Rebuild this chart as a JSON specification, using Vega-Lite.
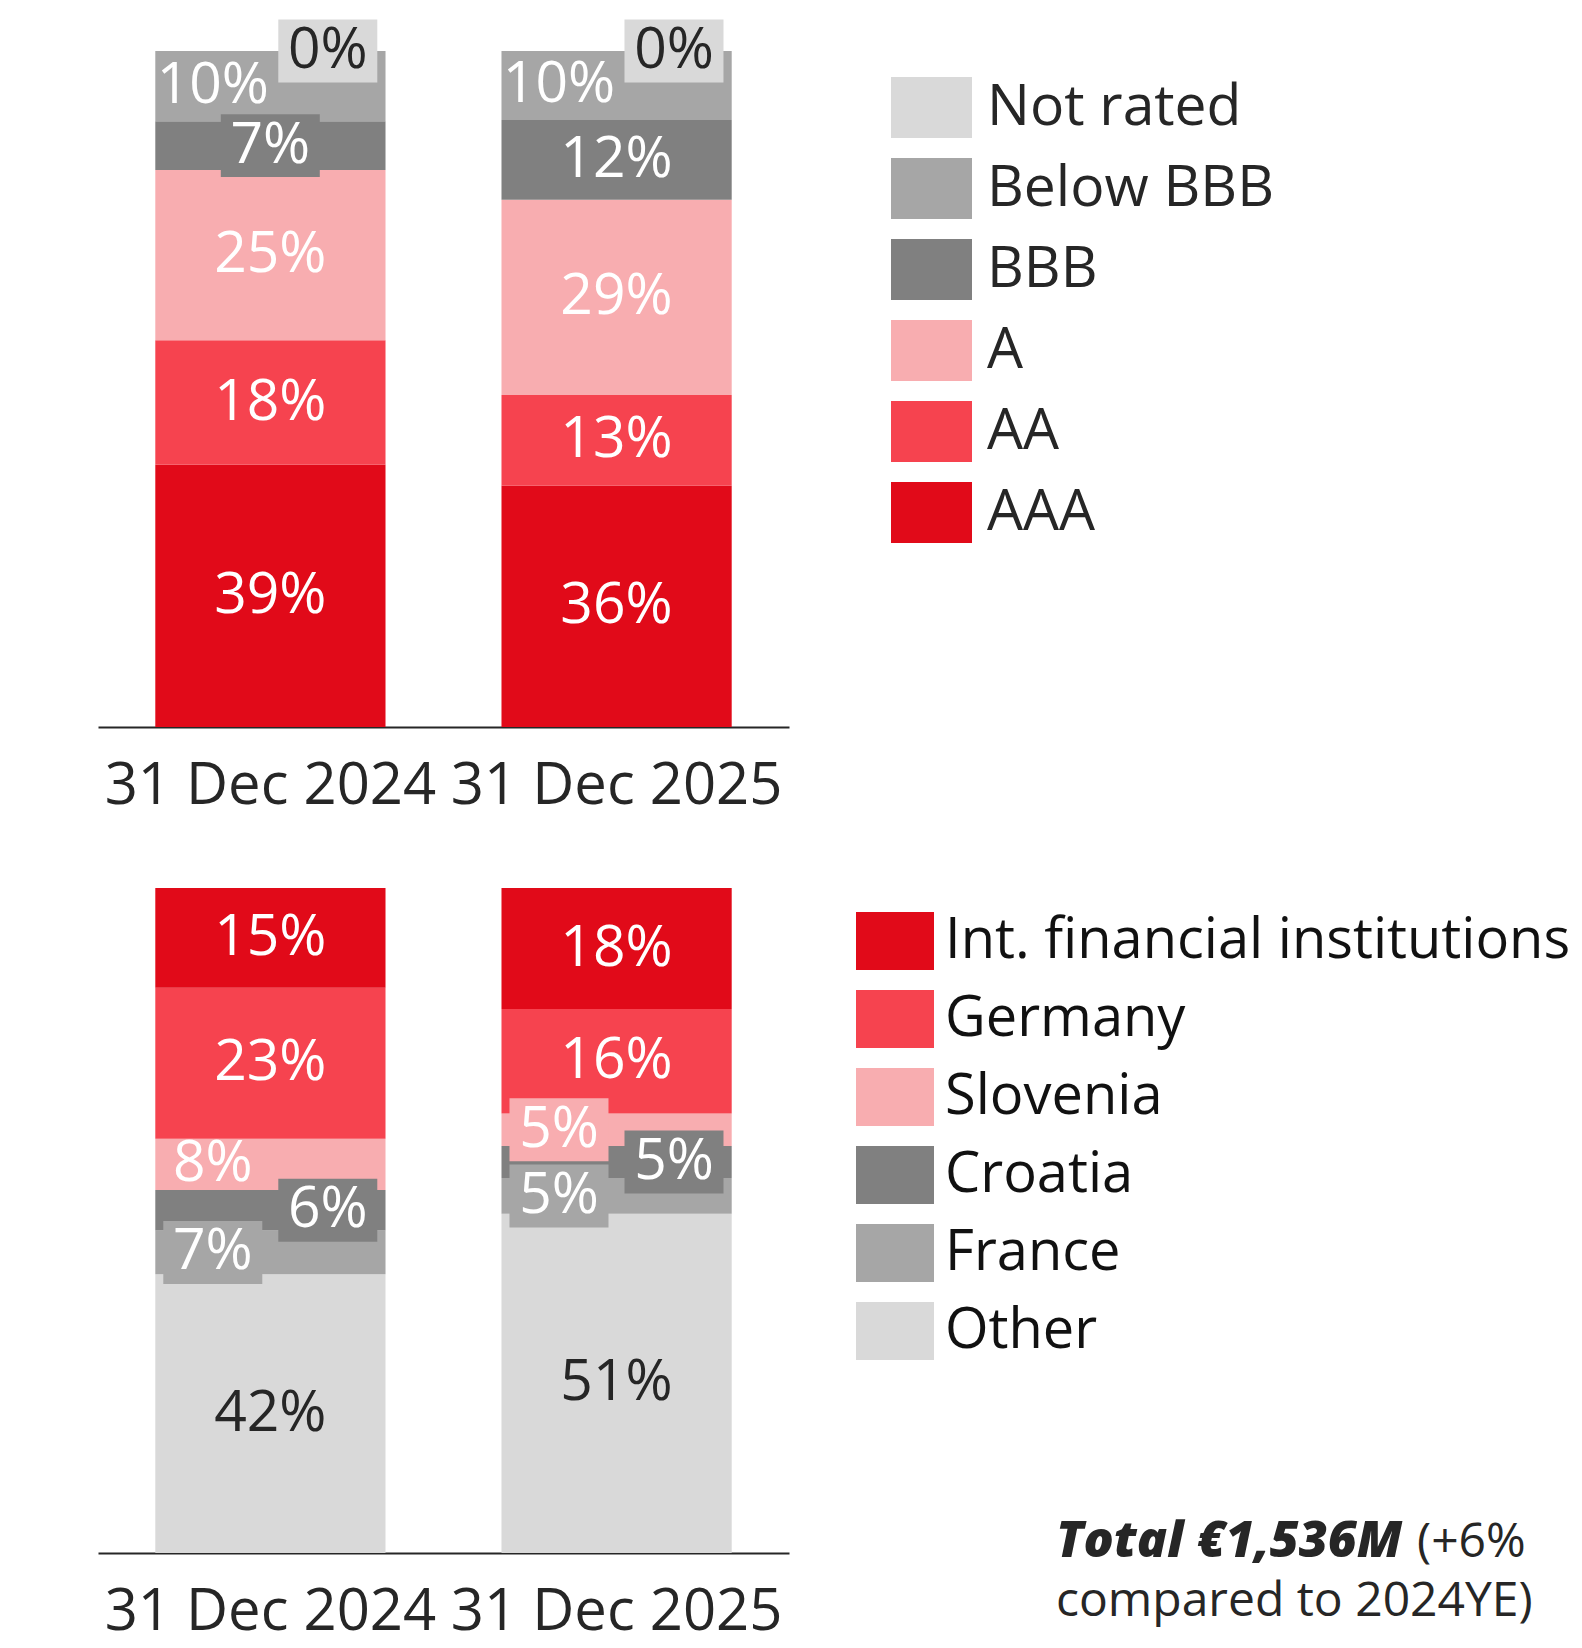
{
  "$schema": "https://vega.github.io/schema/vega-lite/v6.json",
  "padding": {"left": 98, "top": 19, "right": 0, "bottom": 0},
  "config": {"font": "Open Sans", "view": {"stroke": null}},
  "datasets": {
    "ratings": [
      {"date": "31 Dec 2024", "rating": "AAA", "v": 0.388, "rank": 1, "side": "C"},
      {"date": "31 Dec 2024", "rating": "AA", "v": 0.184, "rank": 2, "side": "C"},
      {"date": "31 Dec 2024", "rating": "A", "v": 0.252, "rank": 3, "side": "C"},
      {"date": "31 Dec 2024", "rating": "BBB", "v": 0.072, "rank": 4, "side": "C"},
      {"date": "31 Dec 2024", "rating": "Below BBB", "v": 0.104, "rank": 5, "side": "L"},
      {"date": "31 Dec 2024", "rating": "Not rated", "v": 0.0, "rank": 6, "side": "R"},
      {"date": "31 Dec 2025", "rating": "AAA", "v": 0.357, "rank": 1, "side": "C"},
      {"date": "31 Dec 2025", "rating": "AA", "v": 0.134, "rank": 2, "side": "C"},
      {"date": "31 Dec 2025", "rating": "A", "v": 0.289, "rank": 3, "side": "C"},
      {"date": "31 Dec 2025", "rating": "BBB", "v": 0.118, "rank": 4, "side": "C"},
      {"date": "31 Dec 2025", "rating": "Below BBB", "v": 0.102, "rank": 5, "side": "L"},
      {"date": "31 Dec 2025", "rating": "Not rated", "v": 0.0, "rank": 6, "side": "R"}
    ],
    "regions": [
      {"date": "31 Dec 2024", "region": "Other", "v": 0.419, "rank": 1, "side": "C"},
      {"date": "31 Dec 2024", "region": "France", "v": 0.066, "rank": 2, "side": "L"},
      {"date": "31 Dec 2024", "region": "Croatia", "v": 0.061, "rank": 3, "side": "R"},
      {"date": "31 Dec 2024", "region": "Slovenia", "v": 0.077, "rank": 4, "side": "L"},
      {"date": "31 Dec 2024", "region": "Germany", "v": 0.227, "rank": 5, "side": "C"},
      {"date": "31 Dec 2024", "region": "Int. financial institutions", "v": 0.150, "rank": 6, "side": "C"},
      {"date": "31 Dec 2025", "region": "Other", "v": 0.510, "rank": 1, "side": "C"},
      {"date": "31 Dec 2025", "region": "France", "v": 0.054, "rank": 2, "side": "L"},
      {"date": "31 Dec 2025", "region": "Croatia", "v": 0.048, "rank": 3, "side": "R"},
      {"date": "31 Dec 2025", "region": "Slovenia", "v": 0.049, "rank": 4, "side": "L"},
      {"date": "31 Dec 2025", "region": "Germany", "v": 0.157, "rank": 5, "side": "C"},
      {"date": "31 Dec 2025", "region": "Int. financial institutions", "v": 0.182, "rank": 6, "side": "C"}
    ]
  },
  "title": {
    "text": "(+6%",
    "orient": "bottom",
    "anchor": "start",
    "frame": "group",
    "align": "left",
    "dx": 1319,
    "dy": -126,
    "font": "Open Sans",
    "fontSize": 48,
    "fontWeight": "normal",
    "color": "#262626"
  },
  "spacing": 72,
  "resolve": {
    "scale": {"color": "independent", "x": "independent", "y": "independent", "xOffset": "independent"},
    "legend": {"color": "independent"}
  },
  "vconcat": [
    {
      "width": 691,
      "height": 676,
      "data": {"name": "ratings"},
      "resolve": {"scale": {"x": "independent", "xOffset": "independent"}, "axis": {"x": "independent"}},
      "layer": [
        {
          "mark": {"type": "bar"},
          "encoding": {
            "x": {
              "field": "date", "type": "nominal", "sort": null,
              "scale": {"paddingInner": 0.335, "paddingOuter": 0.1655},
              "axis": {"title": null, "ticks": false, "tickSize": 0, "domain": true, "domainColor": "#262626", "domainWidth": 2, "labelFontSize": 58, "labelColor": "#262626", "labelPadding": 30, "labelAngle": 0, "labelLimit": 0, "labelOverlap": false, "grid": false}
            },
            "y": {"field": "v", "type": "quantitative", "stack": "zero", "scale": {"domain": [0, 1], "nice": false}, "axis": null},
            "color": {
              "field": "rating", "type": "nominal",
              "scale": {"domain": ["Not rated", "Below BBB", "BBB", "A", "AA", "AAA"], "range": ["#d9d9d9", "#a6a6a6", "#808080", "#f8adb0", "#f6434f", "#e10a19"]},
              "legend": {"orient": "none", "legendX": 793, "legendY": 16, "title": null, "symbolType": "M-1,-0.753L1,-0.753L1,0.753L-1,0.753Z", "symbolSize": 6561, "symbolStrokeWidth": 0, "symbolOpacity": 1, "labelFontSize": 57, "labelColor": "#262626", "labelOffset": 15, "labelLimit": 0, "rowPadding": 10, "padding": 0}
            },
            "order": {"field": "rank", "type": "quantitative"}
          }
        },
        {
          "transform": [
            {"stack": "v", "groupby": ["date"], "sort": [{"field": "rank", "order": "ascending"}], "as": ["v0", "v1"]},
            {"fold": ["v0", "v1"], "as": ["k", "edge"]},
            {"aggregate": [{"op": "mean", "field": "edge", "as": "mid"}], "groupby": ["date", "rating", "v", "side"]},
            {"filter": "datum.v < 0.075"}
          ],
          "mark": {"type": "point", "shape": "M-1,-0.636L1,-0.636L1,0.636L-1,0.636Z", "size": 9801, "filled": true, "opacity": 1, "strokeWidth": 0},
          "encoding": {
            "x": {"field": "date", "type": "nominal", "sort": null, "scale": {"paddingInner": 0.335, "paddingOuter": 0.1655}, "axis": null},
            "xOffset": {"field": "side", "type": "nominal", "scale": {"domain": ["L", "C", "R"], "range": [57.5, 172.5], "paddingInner": 0, "paddingOuter": 0}},
            "y": {"field": "mid", "type": "quantitative"},
            "color": {"field": "rating", "type": "nominal", "legend": null}
          }
        },
        {
          "transform": [
            {"stack": "v", "groupby": ["date"], "sort": [{"field": "rank", "order": "ascending"}], "as": ["v0", "v1"]},
            {"fold": ["v0", "v1"], "as": ["k", "edge"]},
            {"aggregate": [{"op": "mean", "field": "edge", "as": "mid"}], "groupby": ["date", "rating", "v", "side"]}
          ],
          "mark": {"type": "text", "fontSize": 57, "baseline": "middle", "align": "center"},
          "encoding": {
            "x": {"field": "date", "type": "nominal", "sort": null, "scale": {"paddingInner": 0.335, "paddingOuter": 0.1655}, "axis": null},
            "xOffset": {"field": "side", "type": "nominal", "scale": {"domain": ["L", "C", "R"], "range": [57.5, 172.5], "paddingInner": 0, "paddingOuter": 0}},
            "y": {"field": "mid", "type": "quantitative"},
            "text": {"field": "v", "type": "quantitative", "format": ".0%"},
            "color": {"condition": {"test": "datum.rating === 'Not rated'", "value": "#262626"}, "value": "#ffffff"}
          }
        }
      ]
    },
    {
      "width": 691,
      "height": 665,
      "data": {"name": "regions"},
      "title": {
        "text": "Total €1,536M",
        "subtitle": "compared to 2024YE)",
        "orient": "bottom",
        "anchor": "start",
        "frame": "group",
        "align": "left",
        "dx": 958,
        "dy": -128,
        "font": "Open Sans",
        "fontSize": 50,
        "fontStyle": "italic",
        "fontWeight": 800,
        "color": "#262626",
        "subtitleFont": "Open Sans",
        "subtitleFontSize": 48,
        "subtitleColor": "#262626",
        "subtitlePadding": 11
      },
      "resolve": {"scale": {"x": "independent", "xOffset": "independent"}, "axis": {"x": "independent"}},
      "layer": [
        {
          "mark": {"type": "bar"},
          "encoding": {
            "x": {
              "field": "date", "type": "nominal", "sort": null,
              "scale": {"paddingInner": 0.335, "paddingOuter": 0.1655},
              "axis": {"title": null, "ticks": false, "tickSize": 0, "domain": true, "domainColor": "#262626", "domainWidth": 2, "labelFontSize": 58, "labelColor": "#262626", "labelPadding": 30, "labelAngle": 0, "labelLimit": 0, "labelOverlap": false, "grid": false}
            },
            "y": {"field": "v", "type": "quantitative", "stack": "zero", "scale": {"domain": [0, 1], "nice": false}, "axis": null},
            "color": {
              "field": "region", "type": "nominal",
              "scale": {"domain": ["Int. financial institutions", "Germany", "Slovenia", "Croatia", "France", "Other"], "range": ["#e10a19", "#f6434f", "#f8adb0", "#808080", "#a6a6a6", "#d9d9d9"]},
              "legend": {"orient": "none", "legendX": 758, "legendY": 14, "title": null, "symbolType": "M-1,-0.744L1,-0.744L1,0.744L-1,0.744Z", "symbolSize": 6084, "symbolStrokeWidth": 0, "symbolOpacity": 1, "labelFontSize": 56, "labelColor": "#111111", "labelOffset": 11, "labelLimit": 0, "rowPadding": 9, "padding": 0}
            },
            "order": {"field": "rank", "type": "quantitative"}
          }
        },
        {
          "transform": [
            {"stack": "v", "groupby": ["date"], "sort": [{"field": "rank", "order": "ascending"}], "as": ["v0", "v1"]},
            {"fold": ["v0", "v1"], "as": ["k", "edge"]},
            {"aggregate": [{"op": "mean", "field": "edge", "as": "mid"}], "groupby": ["date", "region", "v", "side"]},
            {"filter": "datum.v < 0.075"}
          ],
          "mark": {"type": "point", "shape": "M-1,-0.636L1,-0.636L1,0.636L-1,0.636Z", "size": 9801, "filled": true, "opacity": 1, "strokeWidth": 0},
          "encoding": {
            "x": {"field": "date", "type": "nominal", "sort": null, "scale": {"paddingInner": 0.335, "paddingOuter": 0.1655}, "axis": null},
            "xOffset": {"field": "side", "type": "nominal", "scale": {"domain": ["L", "C", "R"], "range": [57.5, 172.5], "paddingInner": 0, "paddingOuter": 0}},
            "y": {"field": "mid", "type": "quantitative"},
            "color": {"field": "region", "type": "nominal", "legend": null}
          }
        },
        {
          "transform": [
            {"stack": "v", "groupby": ["date"], "sort": [{"field": "rank", "order": "ascending"}], "as": ["v0", "v1"]},
            {"fold": ["v0", "v1"], "as": ["k", "edge"]},
            {"aggregate": [{"op": "mean", "field": "edge", "as": "mid"}], "groupby": ["date", "region", "v", "side"]}
          ],
          "mark": {"type": "text", "fontSize": 57, "baseline": "middle", "align": "center"},
          "encoding": {
            "x": {"field": "date", "type": "nominal", "sort": null, "scale": {"paddingInner": 0.335, "paddingOuter": 0.1655}, "axis": null},
            "xOffset": {"field": "side", "type": "nominal", "scale": {"domain": ["L", "C", "R"], "range": [57.5, 172.5], "paddingInner": 0, "paddingOuter": 0}},
            "y": {"field": "mid", "type": "quantitative"},
            "text": {"field": "v", "type": "quantitative", "format": ".0%"},
            "color": {"condition": {"test": "datum.region === 'Other'", "value": "#262626"}, "value": "#ffffff"}
          }
        }
      ]
    }
  ]
}
